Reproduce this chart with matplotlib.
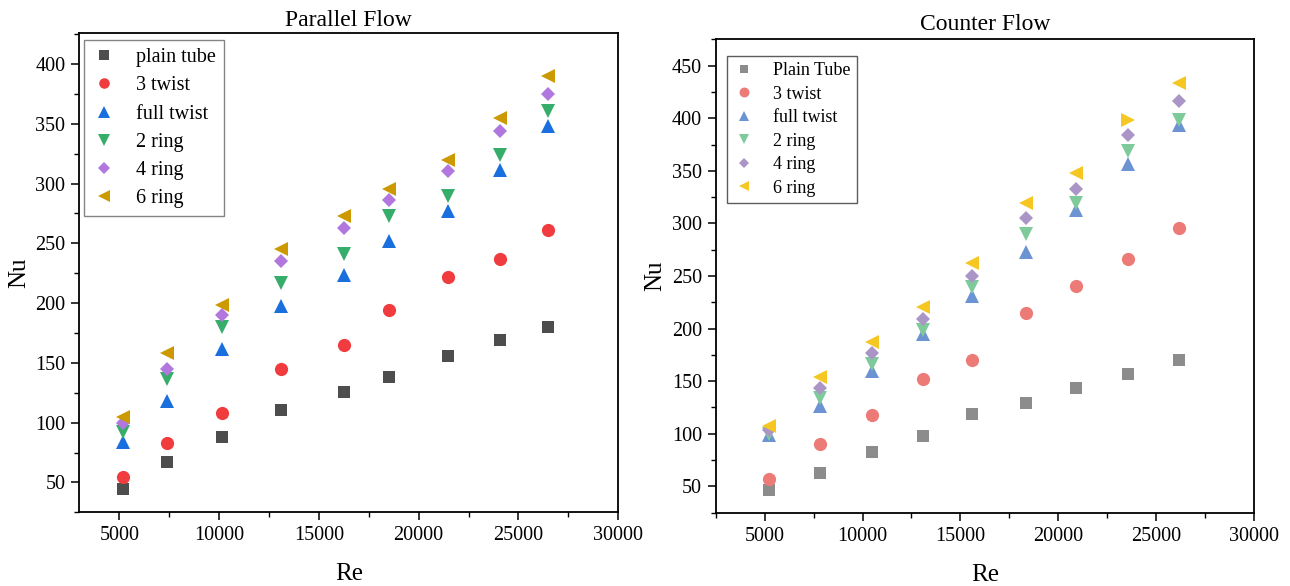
import matplotlib

matplotlib.use("Agg")
import matplotlib.pyplot as plt  # noqa: E402
from matplotlib.ticker import MultipleLocator  # noqa: E402

plt.rcParams["font.family"] = ["Liberation Serif", "DejaVu Serif"]

# Parallel flow data
par_re = [5210, 7410, 10170, 13090, 16270, 18530, 21490, 24050, 26460]
par_plain = [44.4, 66.7, 88.0, 110.5, 126.0, 138.4, 156.0, 169.3, 180.2]
par_3twist = [54.8, 82.6, 108.3, 144.5, 164.9, 194.1, 221.5, 237.2, 261.2]
par_full = [83.7, 117.8, 161.2, 197.5, 223.2, 252.0, 277.1, 311.2, 348.0]
par_2ring = [92.1, 136.7, 179.9, 216.5, 241.3, 273.2, 289.4, 323.5, 360.3]
par_4ring = [99.9, 145.0, 189.7, 235.5, 262.6, 286.6, 310.3, 343.6, 374.6]
par_6ring = [104.9, 157.9, 198.6, 245.5, 272.6, 295.8, 320.1, 354.5, 390.2]

# Counter flow data
cnt_re = [5190, 7840, 10460, 13110, 15590, 18360, 20920, 23600, 26200]
cnt_plain = [46.2, 63.0, 83.0, 97.6, 119.1, 129.0, 143.5, 157.2, 169.9]
cnt_3twist = [56.6, 90.6, 117.5, 152.1, 169.9, 215.2, 240.8, 266.4, 295.5]
cnt_full = [98.8, 126.7, 160.0, 194.9, 231.4, 273.0, 312.6, 356.8, 394.0]
cnt_2ring = [99.5, 134.3, 166.4, 199.0, 239.3, 289.5, 319.8, 368.8, 398.5]
cnt_4ring = [103.6, 143.2, 176.8, 208.9, 250.3, 304.7, 333.1, 384.3, 416.5]
cnt_6ring = [107.7, 154.3, 187.6, 220.3, 262.0, 319.8, 347.6, 397.9, 433.3]

par_labels = ["plain tube", "3 twist", "full twist", "2 ring", "4 ring", "6 ring"]
cnt_labels = ["Plain Tube", "3 twist", "full twist", "2 ring", "4 ring", "6 ring"]

par_colors = ["#4d4d4d", "#f03c3e", "#1a6fdf", "#37ad6b", "#b177de", "#cc9900"]
cnt_colors = ["#8c8c8c", "#ec7a77", "#6c93d2", "#7fca9b", "#ab94c6", "#f6c623"]

markers = ["s", "o", "^", "v", "D", "<"]
msizes = [8.5, 9.5, 10, 10, 7.2, 10]

fig = plt.figure(figsize=(12.9, 5.86), dpi=100)
ax1 = fig.add_axes([0.0615, 0.1258, 0.4178, 0.818])
ax2 = fig.add_axes([0.555, 0.1251, 0.4168, 0.8078])


def style_axes(ax, ylim, xlim, ymajor):
    ax.set_xlim(*xlim)
    ax.set_ylim(*ylim)
    ax.xaxis.set_major_locator(MultipleLocator(5000))
    ax.xaxis.set_minor_locator(MultipleLocator(2500))
    ax.yaxis.set_major_locator(MultipleLocator(ymajor))
    ax.yaxis.set_minor_locator(MultipleLocator(ymajor / 2))
    ax.tick_params(which="major", direction="out", length=6, width=1.1,
                   labelsize=14.5, pad=4)
    ax.tick_params(which="minor", direction="out", length=3.5, width=1.0)
    for sp in ax.spines.values():
        sp.set_linewidth(1.3)
    ax.set_xlabel("Re", fontsize=18, labelpad=13)
    ax.set_ylabel("Nu", fontsize=18, labelpad=4)


# Parallel flow
par_series = [par_plain, par_3twist, par_full, par_2ring, par_4ring, par_6ring]
for vals, lab, col, mk, ms in zip(par_series, par_labels, par_colors, markers, msizes):
    ax1.plot(par_re, vals, linestyle="none", marker=mk, markersize=ms,
             color=col, markeredgewidth=0, label=lab)
style_axes(ax1, (25, 426), (3000, 30000), 50)
ax1.set_title("Parallel Flow", fontsize=17, pad=5)
leg1 = ax1.legend(loc="upper left", bbox_to_anchor=(0.0087, 0.985),
                  borderaxespad=0, fontsize=14.5, frameon=True, fancybox=False,
                  edgecolor="#666666", handlelength=1.2, handletextpad=1.0,
                  labelspacing=0.45, borderpad=0.4, markerscale=0.8)
leg1.get_frame().set_linewidth(1.0)

# Counter flow (the 6 ring point near Re 23600 is drawn as a right triangle)
cnt_series = [cnt_plain, cnt_3twist, cnt_full, cnt_2ring, cnt_4ring, cnt_6ring]
for i, (vals, lab, col, mk, ms) in enumerate(
        zip(cnt_series, cnt_labels, cnt_colors, markers, msizes)):
    if i == 5:
        xs = [x for j, x in enumerate(cnt_re) if j != 7]
        ys = [y for j, y in enumerate(vals) if j != 7]
        ax2.plot(xs, ys, linestyle="none", marker=mk, markersize=ms,
                 color=col, markeredgewidth=0, label=lab)
        ax2.plot([cnt_re[7]], [vals[7]], linestyle="none", marker=">",
                 markersize=ms, color=col, markeredgewidth=0)
    else:
        ax2.plot(cnt_re, vals, linestyle="none", marker=mk, markersize=ms,
                 color=col, markeredgewidth=0, label=lab)
style_axes(ax2, (25, 475), (2500, 30000), 50)
ax2.set_title("Counter Flow", fontsize=17, pad=7)
leg2 = ax2.legend(loc="upper left", bbox_to_anchor=(0.0205, 0.965),
                  borderaxespad=0, fontsize=13, frameon=True, fancybox=False,
                  edgecolor="#333333", handlelength=1.2, handletextpad=1.0,
                  labelspacing=0.36, borderpad=0.35, markerscale=0.75)
leg2.get_frame().set_linewidth(1.0)

fig.savefig("out.png", dpi=100)
